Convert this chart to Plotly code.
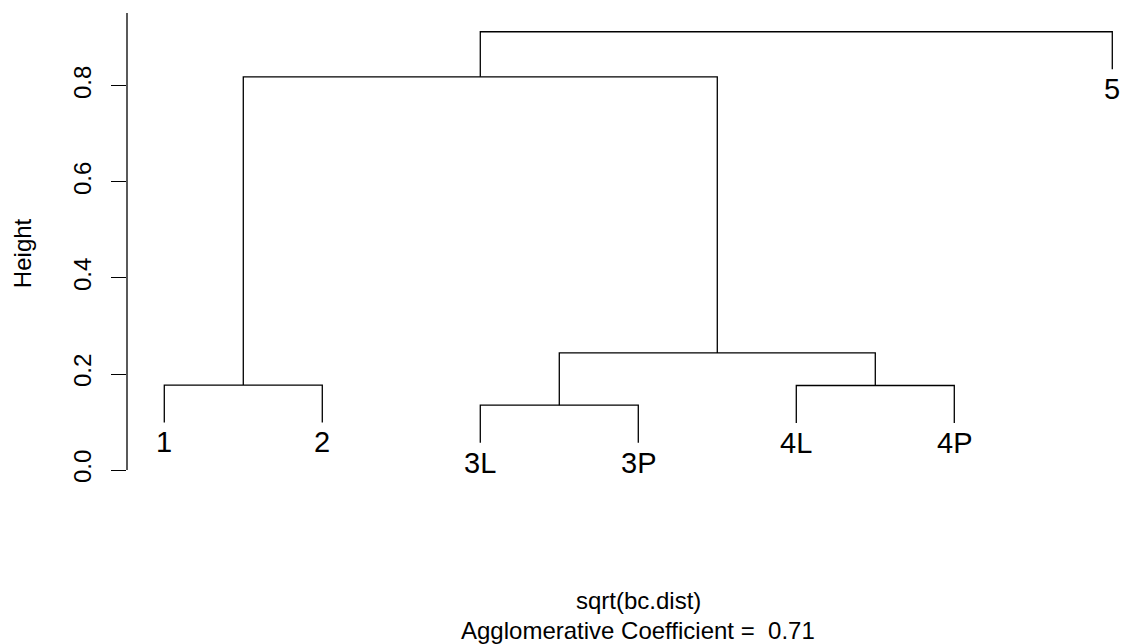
import plotly.graph_objects as go

# Leaf labels in dendrogram order
leaf_labels = ["1", "2", "3L", "3P", "4L", "4P", "5"]

# Merge steps (negative = leaf index, positive = earlier merge step), R hclust style
merge_pairs = [(-3, -4), (-5, -6), (-1, -2), (1, 2), (3, 4), (5, -7)]
merge_heights = [0.135, 0.176, 0.177, 0.244, 0.819, 0.913]

y_ticks = [0.0, 0.2, 0.4, 0.6, 0.8]
y_tick_text = ["0.0", "0.2", "0.4", "0.6", "0.8"]

x_title = "sqrt(bc.dist)"
coef_text = "Agglomerative Coefficient =\u00a0 0.71"

HANG = 0.078
FONT = "Liberation Sans, Arial, Helvetica, sans-serif"

# x position of each leaf (1..n) and each merge (midpoint of children)
leaf_x = {i + 1: float(i + 1) for i in range(len(leaf_labels))}
node_x = {}
node_top = {}


def child_pos(c, h):
    if c < 0:
        return leaf_x[-c], h - HANG
    return node_x[c], node_top[c]


xs, ys = [], []
leaf_ends = {}
for step, ((a, b), h) in enumerate(zip(merge_pairs, merge_heights), start=1):
    xa, ya = child_pos(a, h)
    xb, yb = child_pos(b, h)
    if a < 0:
        leaf_ends[-a] = ya
    if b < 0:
        leaf_ends[-b] = yb
    xs += [xa, xa, xb, xb, None]
    ys += [ya, h, h, yb, None]
    node_x[step] = (xa + xb) / 2
    node_top[step] = h

fig = go.Figure()
fig.add_trace(go.Scatter(
    x=xs, y=ys, mode="lines",
    line=dict(color="black", width=1.3),
    hoverinfo="skip", showlegend=False,
))

# Leaf labels hanging below each leaf line
for i, lab in enumerate(leaf_labels, start=1):
    fig.add_annotation(
        x=leaf_x[i], y=leaf_ends[i], xref="x", yref="y",
        text=lab, showarrow=False, yanchor="top", xanchor="center",
        yshift=-2,
        font=dict(family=FONT, size=29, color="black"),
    )

# Vertical axis line from 0 up to just above the top merge
fig.add_shape(type="line", xref="paper", yref="y",
              x0=0, x1=0, y0=0, y1=0.952,
              line=dict(color="black", width=1.3))

fig.add_annotation(
    x=-0.105, y=0.452, xref="paper", yref="y", text="Height",
    textangle=-90, showarrow=False, xanchor="center", yanchor="middle",
    font=dict(family=FONT, size=24, color="black"),
)
fig.add_annotation(
    x=4, y=-0.206, xref="x", yref="paper", text=x_title,
    showarrow=False, xanchor="center", yanchor="middle",
    font=dict(family=FONT, size=24, color="black"),
)
fig.add_annotation(
    x=4, y=-0.267, xref="x", yref="paper", text=coef_text,
    showarrow=False, xanchor="center", yanchor="middle",
    font=dict(family=FONT, size=24, color="black"),
)

fig.update_layout(
    width=1126, height=644,
    margin=dict(l=127, r=0, t=10, b=144),
    paper_bgcolor="white", plot_bgcolor="white",
    xaxis=dict(range=[0.764, 0.764 + 999 / 158], visible=False,
               showgrid=False, zeroline=False),
    yaxis=dict(range=[-0.0625, 0.9583], showgrid=False, zeroline=False,
               showline=False, tickvals=y_ticks, ticktext=y_tick_text,
               ticks="outside", ticklen=15, tickwidth=1.3, tickcolor="black",
               tickangle=-90, ticklabelstandoff=10,
               tickfont=dict(family=FONT, size=24, color="black")),
)

fig.write_html("out.html")
